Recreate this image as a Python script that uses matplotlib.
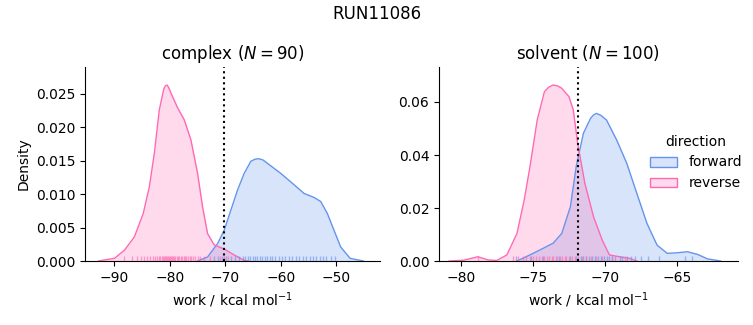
import matplotlib
matplotlib.use("Agg")
import matplotlib.pyplot as plt
from matplotlib.patches import Patch

# colours for the two directions
fwd_color = "#6495ED"
rev_color = "#FF69B4"

# density curves (work, density)
complex_fwd_x = [-75.0, -73.2, -71.4, -70.2, -69.0, -67.8, -66.6, -65.4, -64.7, -64.0, -63.2, -62.4, -60.0,
                 -57.6, -55.8, -54.0, -52.8, -51.6, -50.4, -49.2, -47.5, -45.1]
complex_fwd_y = [0.0, 0.0006, 0.0026, 0.0046, 0.0076, 0.0106, 0.0131, 0.0149, 0.0152, 0.0153, 0.0151, 0.0146, 0.0131,
                 0.0114, 0.0101, 0.0095, 0.0089, 0.0071, 0.0046, 0.0021, 0.0004, 0.0]
complex_rev_x = [-92.9, -90.0, -88.2, -86.4, -84.8, -83.7, -82.8, -81.9, -81.1, -80.8, -80.5, -80.2, -79.8, -78.6,
                 -77.4, -76.2, -75.0, -74.1, -73.2, -72.0, -70.2, -68.4, -66.6, -65.8]
complex_rev_y = [0.0, 0.0004, 0.0016, 0.0036, 0.0071, 0.0111, 0.0161, 0.0226, 0.0257, 0.0262, 0.0263, 0.0259, 0.0251, 0.0229,
                 0.0211, 0.0181, 0.0131, 0.0081, 0.0041, 0.0024, 0.0018, 0.0009, 0.0001, 0.0]

solvent_fwd_x = [-76.1, -75.2, -74.5, -73.6, -73.0, -72.4, -72.0, -71.5, -71.0, -70.8, -70.6, -70.3, -69.9, -69.2,
                 -68.5, -67.8, -67.1, -66.4, -65.7, -65.0, -64.3, -63.6, -62.9, -62.0]
solvent_fwd_y = [0.0, 0.0023, 0.0042, 0.0067, 0.0104, 0.0205, 0.0356, 0.0482, 0.0539, 0.0551, 0.0557, 0.0550, 0.0532, 0.0457,
                 0.0369, 0.0255, 0.0142, 0.0060, 0.0029, 0.0031, 0.0035, 0.0025, 0.0008, 0.0]
solvent_rev_x = [-80.8, -79.8, -78.8, -78.1, -77.5, -76.8, -76.1, -75.6, -75.2, -74.7, -74.2, -73.9, -73.6,
                 -73.3, -73.0, -72.5, -72.2, -71.9, -71.4, -70.8, -70.2, -69.7, -69.0, -68.3, -67.8]
solvent_rev_y = [0.0, 0.0003, 0.0016, 0.0004, 0.0002, 0.0023, 0.0104, 0.0230, 0.0356, 0.0532, 0.0639, 0.0656, 0.0664,
                 0.0661, 0.0652, 0.0620, 0.0570, 0.0444, 0.0293, 0.0167, 0.0079, 0.0023, 0.0016, 0.0010, 0.0]

# individual work values (rug)
complex_rev_rug = [-88.3, -86.9, -86.0, -85.2, -84.6, -84.1, -83.5, -83.0, -82.7, -82.3, -82.0, -81.8,
                   -81.5, -81.3, -81.1, -80.9, -80.7, -80.6, -80.4, -80.2, -80.0, -79.8, -79.6, -79.4,
                   -79.2, -79.0, -78.8, -78.5, -78.3, -78.0, -77.8, -77.5, -77.2, -77.0, -76.7, -76.4,
                   -76.1, -75.8, -75.4, -75.0, -74.5, -73.9, -72.8, -71.0, -70.3, -69.5]
complex_fwd_rug = [-72.0, -71.3, -70.6, -69.8, -69.0, -68.3, -67.5, -66.9, -66.4, -65.9, -65.5, -65.0,
                   -64.6, -64.2, -63.8, -63.3, -62.9, -62.4, -62.0, -61.5, -61.0, -60.4, -59.8, -59.2,
                   -58.6, -58.0, -57.3, -56.7, -56.0, -55.4, -54.8, -54.2, -53.6, -53.0, -52.4, -51.8,
                   -51.0, -50.2]
solvent_rev_rug = [-78.8, -76.4, -76.0, -75.7, -75.5, -75.2, -75.0, -74.8, -74.6, -74.4, -74.2, -74.0,
                   -73.9, -73.7, -73.6, -73.4, -73.3, -73.1, -73.0, -72.8, -72.7, -72.5, -72.3, -72.1,
                   -71.9, -71.6, -71.3, -71.0, -70.6, -70.2, -69.5, -68.6]
solvent_fwd_rug = [-76.2, -75.1, -74.3, -73.2, -72.4, -72.0, -71.7, -71.5, -71.3, -71.1, -70.9, -70.7,
                   -70.5, -70.3, -70.1, -69.9, -69.7, -69.5, -69.3, -69.0, -68.8, -68.5, -68.2, -67.9,
                   -67.5, -67.0, -66.3, -64.5, -64.0]

# free energy estimates (dotted lines)
complex_estimate = -70.2
solvent_estimate = -71.9

fig = plt.figure(figsize=(7.53, 3.25), dpi=100)
ax1 = fig.add_axes([0.1129, 0.1969, 0.3918, 0.5969])
ax2 = fig.add_axes([0.583, 0.1969, 0.397, 0.5969])

panels = [
    (ax1, "complex ($N = 90$)", complex_fwd_x, complex_fwd_y, complex_rev_x, complex_rev_y,
     complex_fwd_rug, complex_rev_rug, complex_estimate, (-95.3, -42.1), (0, 0.029)),
    (ax2, "solvent ($N = 100$)", solvent_fwd_x, solvent_fwd_y, solvent_rev_x, solvent_rev_y,
     solvent_fwd_rug, solvent_rev_rug, solvent_estimate, (-81.5, -60.8), (0, 0.0732)),
]

for ax, title, fx, fy, rx, ry, frug, rrug, est, xl, yl in panels:
    for x, y, c in [(fx, fy, fwd_color), (rx, ry, rev_color)]:
        ax.fill_between(x, y, 0, color=c, alpha=0.25, lw=0)
        ax.plot(x, y, color=c, lw=1)
    for vals, c in [(frug, fwd_color), (rrug, rev_color)]:
        ax.vlines(vals, 0, 0.025, transform=ax.get_xaxis_transform(), colors=c, alpha=0.6, lw=1)
    ax.axvline(est, color="black", ls=":", lw=1.5)
    ax.set_xlim(*xl)
    ax.set_ylim(*yl)
    ax.set_title(title, fontsize=12)
    ax.set_xlabel("work / kcal mol$^{-1}$")
    ax.spines["top"].set_visible(False)
    ax.spines["right"].set_visible(False)

ax1.set_ylabel("Density")
ax2.set_xticks([-80, -75, -70, -65])

handles = [Patch(facecolor=(100/255, 149/255, 237/255, 0.25), edgecolor=fwd_color),
           Patch(facecolor=(1.0, 105/255, 180/255, 0.25), edgecolor=rev_color)]
fig.legend(handles, ["forward", "reverse"], title="direction", frameon=False,
           loc="center left", bbox_to_anchor=(0.846, 0.5))

fig.suptitle("RUN11086", fontsize=12, y=0.985)

fig.savefig("out.png", dpi=100)
